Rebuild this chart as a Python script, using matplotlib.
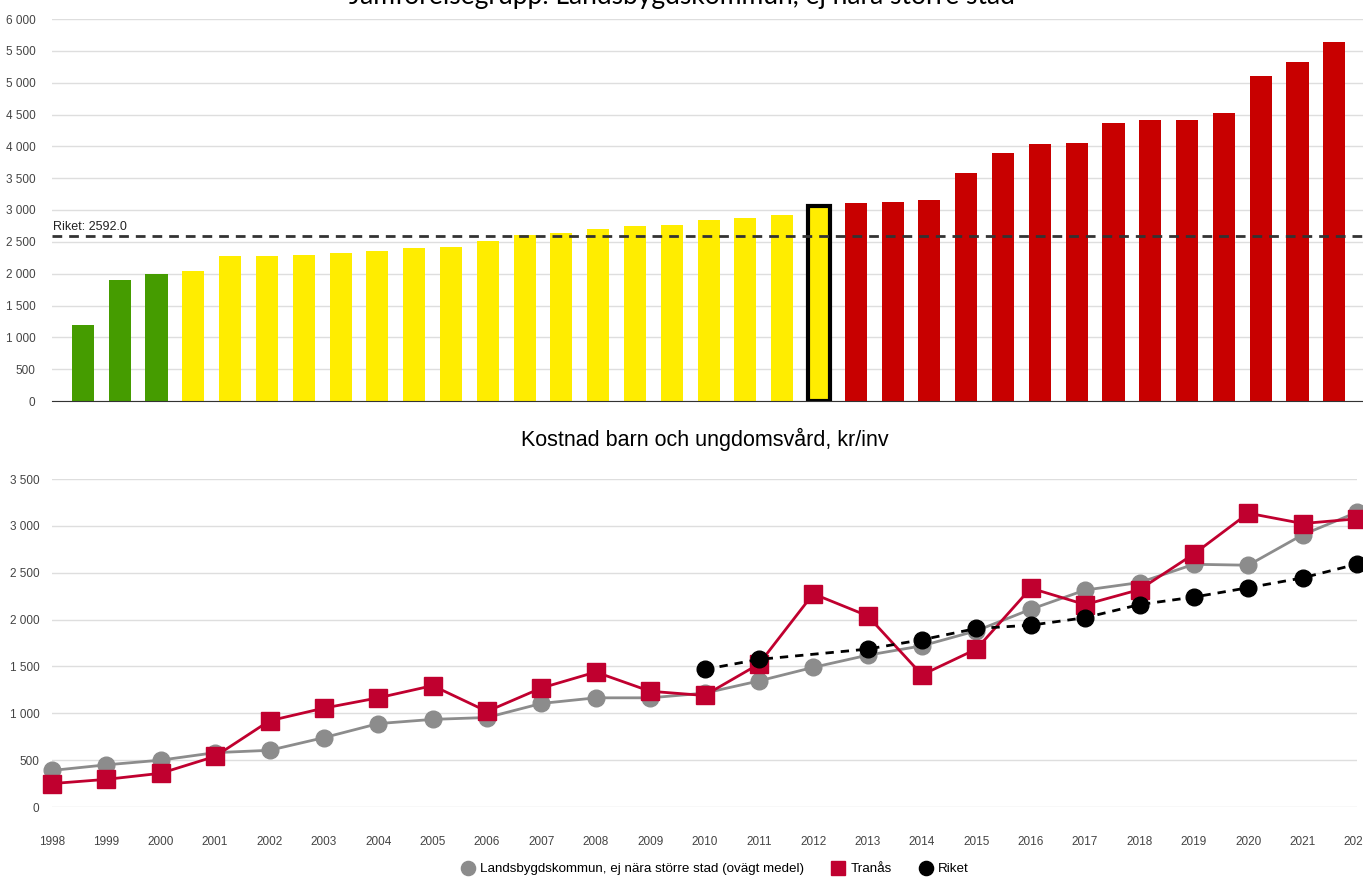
import numpy as np
import matplotlib.pyplot as plt
from matplotlib.ticker import FuncFormatter

# övre diagram: kommunerna i jämförelsegruppen, sorterade
green_vals = [1200, 1900, 1990]
yellow_vals = [2040, 2270, 2270, 2300, 2320, 2360, 2410, 2420, 2510, 2600,
               2640, 2700, 2750, 2770, 2840, 2870, 2920]
tranas_val = 3070
red_vals = [3110, 3130, 3150, 3580, 3900, 4030, 4050, 4370, 4410, 4420,
            4530, 5100, 5320, 5640]
riket_val = 2592.0

# nedre diagram: kostnad per år
years = list(range(1998, 2023))
landsbygd = [390, 450, 500, 580, 605, 740, 890, 935, 955, 1105, 1165, 1165, 1215,
             1345, 1490, 1620, 1720, 1880, 2110, 2315, 2395, 2590, 2580, 2905, 3145]
tranas = [250, 295, 360, 540, 920, 1055, 1165, 1295, 1020, 1270, 1440, 1235, 1190,
          1525, 2275, 2040, 1410, 1685, 2335, 2160, 2320, 2700, 3135, 3025, 3075]
riket = [None] * 12 + [1468, 1575, None, 1685, 1785, 1905, 1940, 2020, 2160, 2240,
                       2340, 2445, 2592]

plt.rcParams['font.family'] = ['Liberation Sans', 'DejaVu Sans']
fmt = FuncFormatter(lambda v, p: f"{int(v):,}".replace(",", " "))

fig = plt.figure(figsize=(13.63, 8.77), dpi=100)

# ---- staplar ----
ax1 = fig.add_axes([52/1363, 1-401/877, 1-52/1363, 382/877])
vals = green_vals + yellow_vals + [tranas_val] + red_vals
cols = (["#459c00"]*len(green_vals) + ["#ffed00"]*len(yellow_vals) + ["#ffed00"]
        + ["#c80000"]*len(red_vals))
x = np.arange(len(vals))
bars = ax1.bar(x, vals, width=0.6, color=cols, zorder=2)
hi = len(green_vals) + len(yellow_vals)
bars[hi].set_edgecolor("black")
bars[hi].set_linewidth(3)
ax1.set_xlim(-0.84, 34.78)
ax1.set_ylim(0, 6000)
ax1.set_yticks(range(0, 6001, 500))
ax1.yaxis.set_major_formatter(fmt)
ax1.grid(axis="y", color="#dedede", lw=1, zorder=0)
ax1.axhline(riket_val, color="#333333", ls=(0, (3.5, 2.5)), lw=2, zorder=3)
ax1.text(-0.8, riket_val + 100, f"Riket: {riket_val:.1f}", fontsize=9, color="#222222")
ax1.set_xticks([])
for s in ["top", "right", "left"]:
    ax1.spines[s].set_visible(False)
ax1.spines["bottom"].set_color("#333333")
ax1.tick_params(axis="y", length=0, labelsize=8.5, labelcolor="#444444", pad=12)

fig.text(0.5, 1 - 4/877, "Jämförelsegrupp: Landsbygdskommun, ej nära större stad",
         ha="center", va="baseline", fontsize=19, family=["Lato", "DejaVu Sans"])

# ---- linjer ----
ax2 = fig.add_axes([52/1363, 1-807/877, (1357-52)/1363, 328/877])
ax2.plot(years, landsbygd, color="#8c8c8c", lw=2, marker="o", ms=12, clip_on=False,
         zorder=3, label="Landsbygdskommun, ej nära större stad (ovägt medel)")
ax2.plot(years, tranas, color="#c0002f", lw=2, marker="s", ms=12.5, clip_on=False,
         zorder=4, label="Tranås")
ry = [y for y, v in zip(years, riket) if v is not None]
rv = [v for v in riket if v is not None]
ax2.plot(ry, rv, color="black", lw=2, ls=(0, (3, 2.5)), marker="o", ms=12,
         clip_on=False, zorder=5, label="Riket")
ax2.set_xlim(1998, 2022)
ax2.set_ylim(0, 3500)
ax2.set_yticks(range(0, 3501, 500))
ax2.yaxis.set_major_formatter(fmt)
ax2.set_xticks(years)
ax2.grid(axis="y", color="#dedede", lw=1, zorder=0)
for s in ["top", "right", "left", "bottom"]:
    ax2.spines[s].set_visible(False)
ax2.tick_params(axis="y", length=0, labelsize=8.5, labelcolor="#444444", pad=9)
ax2.tick_params(axis="x", length=0, labelsize=8.5, labelcolor="#444444", pad=21)
ax2.set_title("Kostnad barn och ungdomsvård, kr/inv", fontsize=15.5, pad=24, x=0.5)

fig.legend(loc="center", bbox_to_anchor=(715/1363, 1-869/877), ncol=3,
           frameon=False, fontsize=9.6, markerscale=0.85, handlelength=1.0,
           columnspacing=2.1, handletextpad=0.4)
for h in fig.legends[0].legend_handles:
    h.set_linestyle("none")

fig.savefig("out.png", dpi=100)
